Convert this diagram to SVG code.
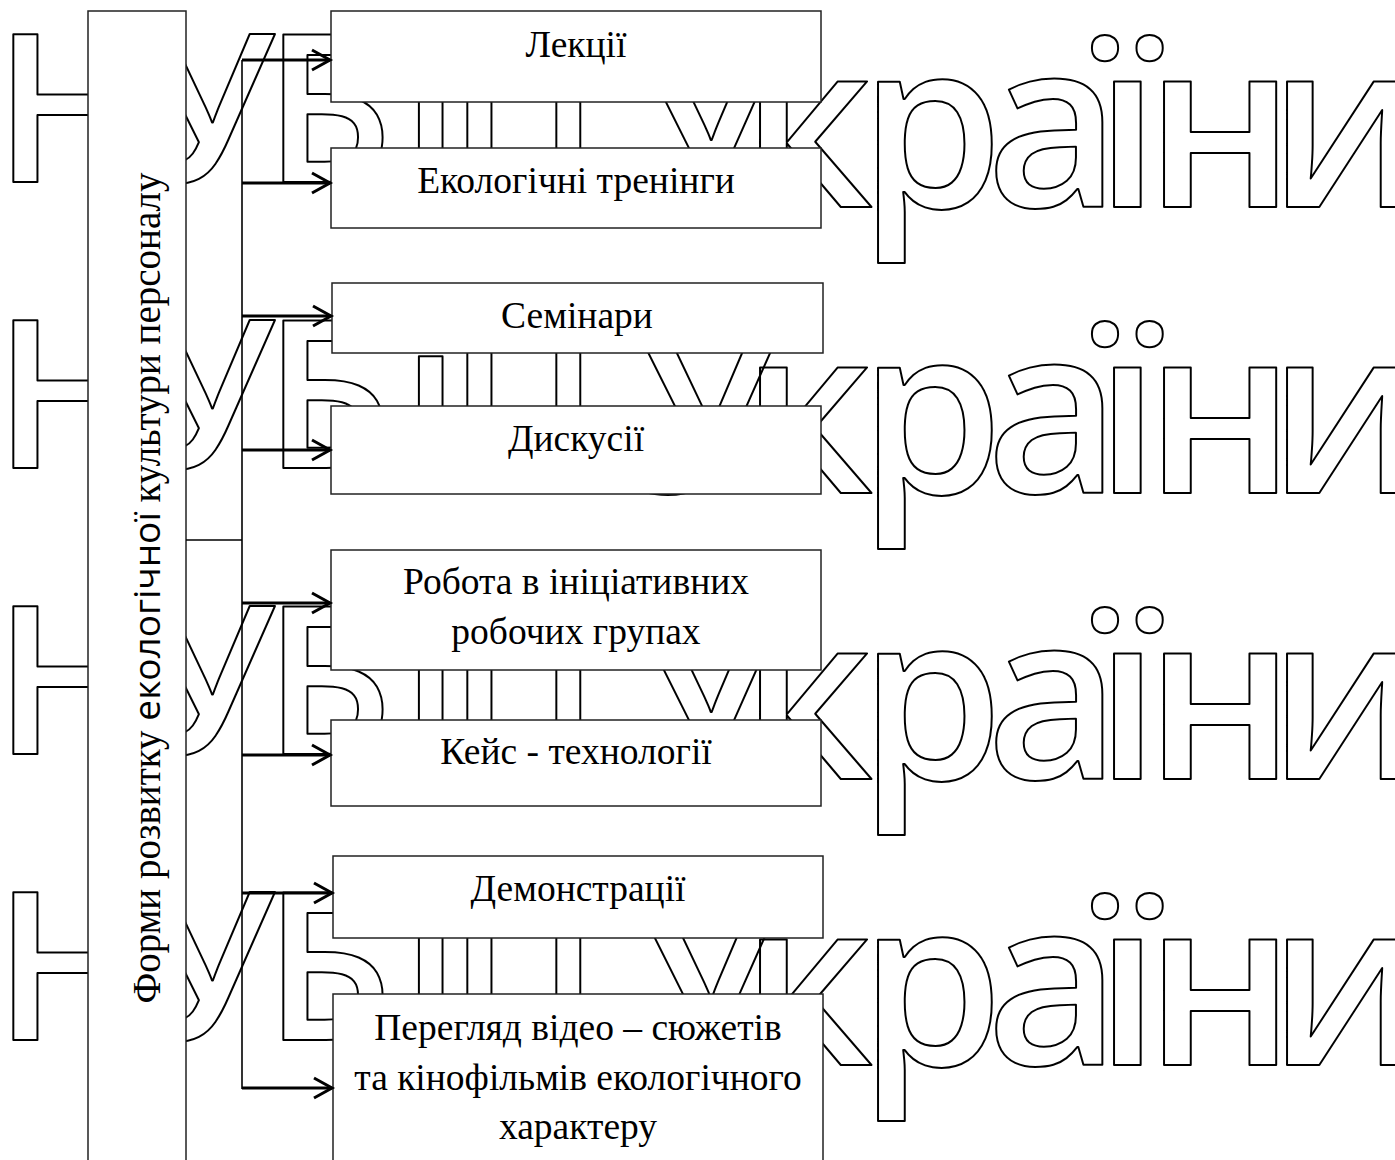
<svg xmlns="http://www.w3.org/2000/svg" width="1395" height="1160" viewBox="0 0 1395 1160">
<style>
.wm{font-family:"Open Sans","Noto Sans",sans-serif;font-weight:600;fill:none;stroke:#000;stroke-width:2;stroke-linejoin:round}
.w1{font-size:206px}
.w2{font-size:232px}
.box{fill:#fff;stroke:#222;stroke-width:1.5}
.lbl{font-family:"Liberation Serif","Times New Roman",serif;font-size:37.5px;fill:#000;text-anchor:middle}
.arr{fill:none;stroke:#000;stroke-width:3}
.thin{fill:none;stroke:#000;stroke-width:1.6}
</style>
<defs>
<marker id="ah" markerUnits="userSpaceOnUse" markerWidth="24" markerHeight="26" refX="19" refY="12" orient="auto">
<path d="M1,2 L19,12 L1,22" fill="none" stroke="#000" stroke-width="3"/>
</marker>
</defs>
<rect width="1395" height="1160" fill="#fff"/>
<g id="watermark">
<text class="wm w1" x="-6 143 264 402 448" y="182">НУБіП</text>
<text class="wm w2" x="633 741 859 986 1095 1145 1268" y="207">України</text>
<text class="wm w1" x="-6 143 264 402 448" y="468">НУБіП</text>
<text class="wm w2" x="633 741 859 986 1095 1145 1268" y="493">України</text>
<text class="wm w1" x="-6 143 264 402 448" y="754">НУБіП</text>
<text class="wm w2" x="633 741 859 986 1095 1145 1268" y="779">України</text>
<text class="wm w1" x="-6 143 264 402 448" y="1040">НУБіП</text>
<text class="wm w2" x="633 741 859 986 1095 1145 1268" y="1065">України</text>
</g>
<g id="forms">
<rect class="box" x="88" y="11" width="98" height="1160"/>
<text transform="translate(160,588) rotate(-90)" font-family="Liberation Serif,Times New Roman,serif" font-size="39" text-anchor="middle">Форми розвитку <tspan font-family="Open Sans,Noto Sans,sans-serif" font-size="37">екологічної</tspan> культури персоналу</text>
</g>
<g id="lectures"><rect class="box" x="331" y="11" width="490" height="91"/><text class="lbl" x="576" y="57">Лекції</text></g>
<g id="trainings"><rect class="box" x="331" y="148" width="490" height="80"/><text class="lbl" x="576" y="193">Екологічні тренінги</text></g>
<g id="seminars"><rect class="box" x="332" y="283" width="491" height="70"/><text class="lbl" x="577" y="328">Семінари</text></g>
<g id="discussions"><rect class="box" x="331" y="406" width="490" height="88"/><text class="lbl" x="576" y="451">Дискусії</text></g>
<g id="groups"><rect class="box" x="331" y="550" width="490" height="120"/><text class="lbl" x="576" y="594">Робота в ініціативних</text><text class="lbl" x="576" y="644">робочих групах</text></g>
<g id="cases"><rect class="box" x="331" y="720" width="490" height="86"/><text class="lbl" x="576" y="764">Кейс - технології</text></g>
<g id="demos"><rect class="box" x="333" y="856" width="490" height="82"/><text class="lbl" x="578" y="901">Демонстрації</text></g>
<g id="video"><rect class="box" x="333" y="994" width="490" height="180"/><text class="lbl" x="578" y="1040">Перегляд відео – сюжетів</text><text class="lbl" x="578" y="1090">та кінофільмів екологічного</text><text class="lbl" x="578" y="1139">характеру</text></g>
<g id="connectors">
<line class="thin" x1="242" y1="60" x2="242" y2="1089"/>
<line class="thin" x1="186" y1="540" x2="242" y2="540"/>
<line class="arr" x1="242" y1="60" x2="330" y2="60" marker-end="url(#ah)"/>
<line class="arr" x1="242" y1="183" x2="330" y2="183" marker-end="url(#ah)"/>
<line class="arr" x1="242" y1="316" x2="331" y2="316" marker-end="url(#ah)"/>
<line class="arr" x1="242" y1="450" x2="330" y2="450" marker-end="url(#ah)"/>
<line class="arr" x1="242" y1="603" x2="330" y2="603" marker-end="url(#ah)"/>
<line class="arr" x1="242" y1="755" x2="330" y2="755" marker-end="url(#ah)"/>
<line class="arr" x1="242" y1="893" x2="332" y2="893" marker-end="url(#ah)"/>
<line class="arr" x1="242" y1="1088" x2="332" y2="1088" marker-end="url(#ah)"/>
</g>
</svg>
